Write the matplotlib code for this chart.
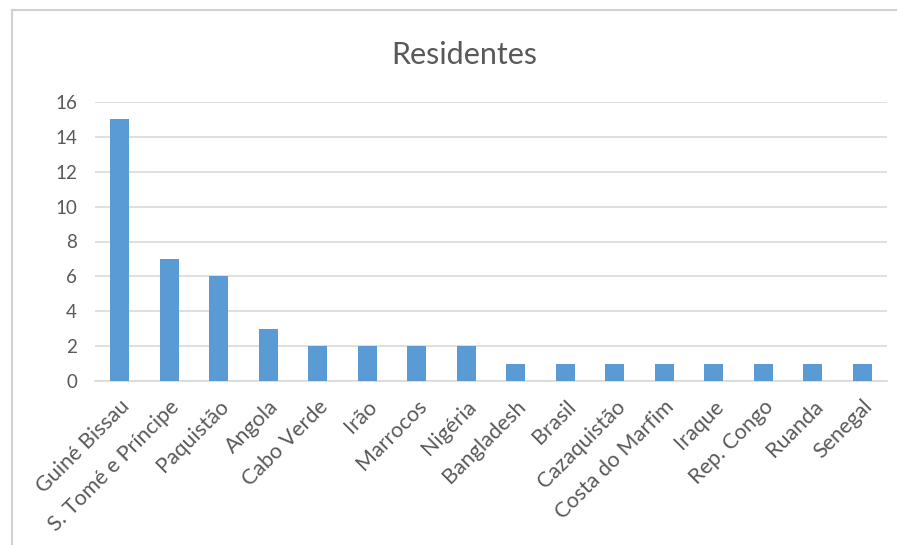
import matplotlib.pyplot as plt
from matplotlib.lines import Line2D

# residentes por país de origem
paises = ["Guiné Bissau", "S. Tomé e Príncipe", "Paquistão", "Angola", "Cabo Verde",
          "Irão", "Marrocos", "Nigéria", "Bangladesh", "Brasil", "Cazaquistão",
          "Costa do Marfim", "Iraque", "Rep. Congo", "Ruanda", "Senegal"]
residentes = [15, 7, 6, 3, 2, 2, 2, 2, 1, 1, 1, 1, 1, 1, 1, 1]
y_ticks = [0, 2, 4, 6, 8, 10, 12, 14, 16]

bar_color = "#5B9BD5"
text_color = "#595959"
grid_color = "#D9D9D9"

plt.rcParams['font.family'] = ['Lato', 'DejaVu Sans']

W, H = 897, 545
fig = plt.figure(figsize=(W / 100, H / 100), dpi=100)

# chart frame (top and left edges visible)
fig.add_artist(Line2D([12 / W, 1], [1 - 10 / H, 1 - 10 / H], color="#D0D0D0", lw=1.5,
                      transform=fig.transFigure))
fig.add_artist(Line2D([12 / W, 12 / W], [0, 1 - 10 / H], color="#D0D0D0", lw=1.5,
                      transform=fig.transFigure))

ax = fig.add_axes([95 / W, 1 - 381 / H, (887 - 95) / W, (381 - 102) / H])
x = range(len(paises))
ax.bar(x, residentes, width=0.39, color=bar_color, zorder=3)

ax.set_xlim(-0.5, len(paises) - 0.5)
ax.set_ylim(0, 16)
ax.set_yticks(y_ticks)
ax.yaxis.grid(True, color=grid_color, lw=1.2, zorder=0)
ax.set_xticks(list(x))
ax.set_xticklabels(paises, rotation=45, ha="right", va="top", rotation_mode="anchor",
                   fontsize=15.5, color=text_color)
ax.tick_params(axis="y", labelsize=13.5, labelcolor=text_color, length=0, pad=13)
ax.tick_params(axis="x", length=0, pad=11)
for s in ["top", "right", "left"]:
    ax.spines[s].set_visible(False)
ax.spines["bottom"].set_color(grid_color)
ax.spines["bottom"].set_linewidth(1.2)

fig.text(464 / W, 1 - 55 / H, "Residentes", ha="center", va="center",
         fontsize=22, color=text_color)

fig.savefig("out.png", dpi=100)
